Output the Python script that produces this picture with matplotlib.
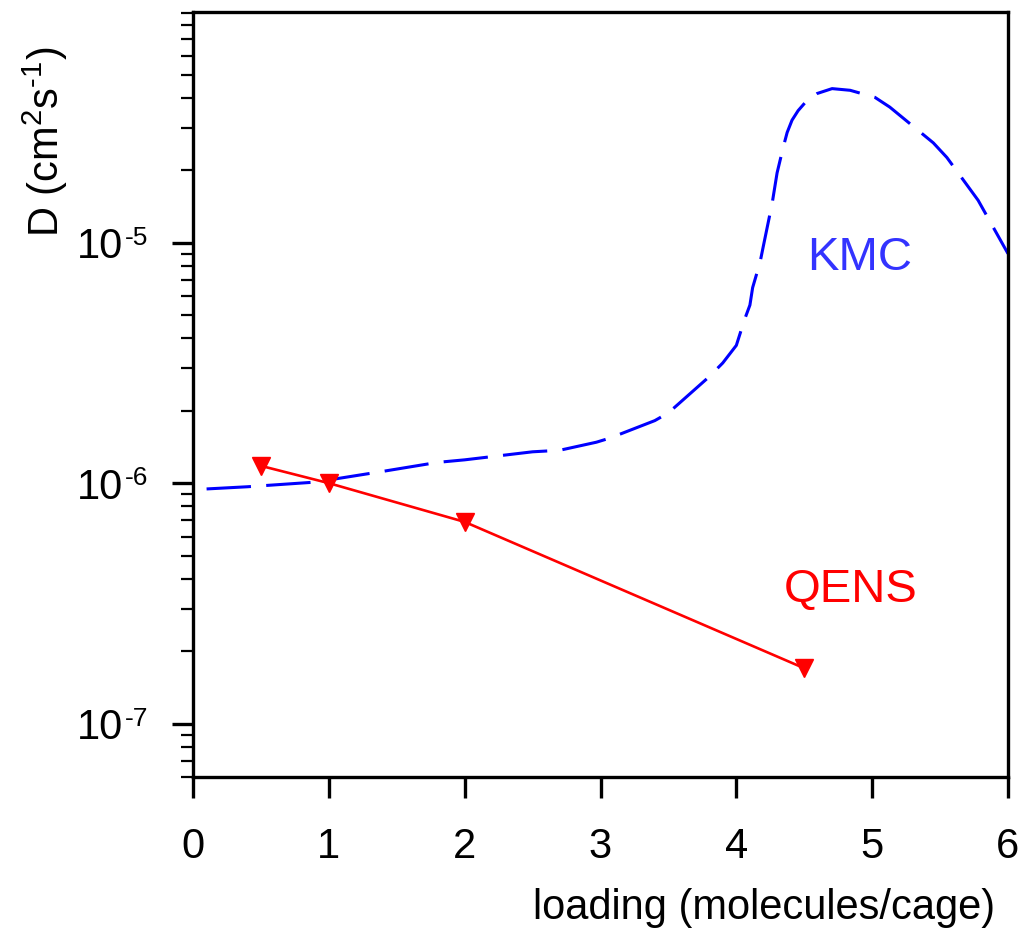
#
########################################################################
# Importação das Bibliotecas Necessárias
########################################################################
#
import matplotlib
matplotlib.use("Agg")
import numpy as np
from matplotlib import pyplot as plt
from matplotlib import transforms
from matplotlib.ticker import LogLocator, FixedLocator, NullFormatter

#
########################################################################
# Dados
########################################################################
#
QensLoading = [0.5, 1.0, 2.0, 4.5]
QensD = [1.18e-6, 1.0e-6, 6.9e-7, 1.7e-7]

KmcLoading = [0.1, 0.4, 0.9, 1.4, 1.8, 2.0, 2.5, 2.7, 2.97, 3.07, 3.4, 3.5,
              3.8, 3.9, 4.0, 4.06, 4.1, 4.12, 4.175, 4.197, 4.264, 4.30,
              4.345, 4.374, 4.41, 4.455, 4.52, 4.595, 4.705, 4.838, 5.02,
              5.13, 5.45, 5.55, 5.78, 6.0]
KmcD = [0.946e-6, 0.966e-6, 1.01e-6, 1.12e-6, 1.22e-6, 1.25e-6, 1.35e-6,
        1.37e-6, 1.48e-6, 1.54e-6, 1.82e-6, 1.96e-6, 2.77e-6, 3.16e-6,
        3.74e-6, 4.78e-6, 5.5e-6, 6.5e-6, 8.3e-6, 9.56e-6, 1.46e-5, 1.95e-5,
        2.49e-5, 2.87e-5, 3.23e-5, 3.54e-5, 3.9e-5, 4.17e-5, 4.37e-5,
        4.30e-5, 4.02e-5, 3.66e-5, 2.6e-5, 2.26e-5, 1.5e-5, 9.0e-6]

XTicks = [0, 1, 2, 3, 4, 5, 6]
YTicks = [1e-7, 1e-6, 1e-5]
YExpoentes = ["-7", "-6", "-5"]

#
########################################################################
# Definições Gerais
########################################################################
#
plt.rcParams["font.family"] = ["Liberation Sans", "DejaVu Sans"]
plt.rcParams["mathtext.fontset"] = "custom"
plt.rcParams["mathtext.rm"] = "Liberation Sans"
plt.rcParams["mathtext.sf"] = "Liberation Sans"
plt.rcParams["mathtext.it"] = "Liberation Sans:italic"
plt.rcParams["mathtext.bf"] = "Liberation Sans:bold"

LarguraPx, AlturaPx = 1026, 935
Dpi = 100

#
########################################################################
# Apresentação dos Resultados
########################################################################
#
Grafico = plt.figure(figsize=(LarguraPx / Dpi, AlturaPx / Dpi), dpi=Dpi)
Eixo = Grafico.add_axes([193 / LarguraPx, 1 - 777 / AlturaPx,
                         (1008 - 193) / LarguraPx, (777 - 12) / AlturaPx])

LarguraKmc = 2.2
Eixo.plot(KmcLoading, KmcD, color="#0000ff", linewidth=LarguraKmc,
          linestyle=(0, (32 / LarguraKmc, 11 / LarguraKmc)), clip_on=False)
Eixo.plot(QensLoading, QensD, color="#ff0000", linewidth=1.9,
          marker="v", markersize=13, clip_on=False)

Eixo.set_yscale("log")
Eixo.set_xlim(0, 6)
Eixo.set_ylim(6.0e-8, 9.1e-5)

Eixo.xaxis.set_major_locator(FixedLocator(XTicks))
Eixo.set_xticklabels([str(v) for v in XTicks])
Eixo.yaxis.set_major_locator(FixedLocator(YTicks))
Eixo.set_yticklabels(["10"] * len(YTicks))
Eixo.yaxis.set_minor_locator(LogLocator(base=10, subs=np.arange(2, 10)))
Eixo.yaxis.set_minor_formatter(NullFormatter())

for Lado in ["left", "right", "top", "bottom"]:
    Eixo.spines[Lado].set_linewidth(2.4)

Eixo.tick_params(axis="both", which="major", direction="out", length=15,
                 width=2.4, labelsize=30, top=False, right=False)
Eixo.tick_params(axis="x", which="major", pad=21)
Eixo.tick_params(axis="y", which="major", pad=35)
Eixo.tick_params(axis="y", which="minor", direction="out", length=8.5,
                 width=1.6, right=False)

# expoentes dos rótulos do eixo y
Deslocamento = transforms.ScaledTranslation(0, 17 / Dpi, Grafico.dpi_scale_trans)
Mistura = transforms.blended_transform_factory(Eixo.transAxes, Eixo.transData)
for Valor, Expoente in zip(YTicks, YExpoentes):
    Eixo.text(-68 / 815, Valor, Expoente, fontsize=19, ha="left", va="top",
              transform=Mistura + Deslocamento, clip_on=False)

Eixo.text(4.91, 8.6e-6, "KMC", color="#3333ff", fontsize=34,
          ha="center", va="center")
Eixo.text(4.845, 3.6e-7, "QENS", color="#ff0000", fontsize=34,
          ha="center", va="center")

Grafico.text(995 / LarguraPx, 1 - 908 / AlturaPx, "loading (molecules/cage)",
             fontsize=30, ha="right", va="center")
Grafico.text(45 / LarguraPx, 1 - 47 / AlturaPx,
             "D (cm$^{\\mathsf{2}}$s$^{\\mathsf{\u2010}\\mathsf{1}}$)",
             fontsize=30, rotation=90, ha="center", va="top")

plt.savefig("out.png", dpi=Dpi)

########################################################################
# FIM DO PROGRAMA
########################################################################
